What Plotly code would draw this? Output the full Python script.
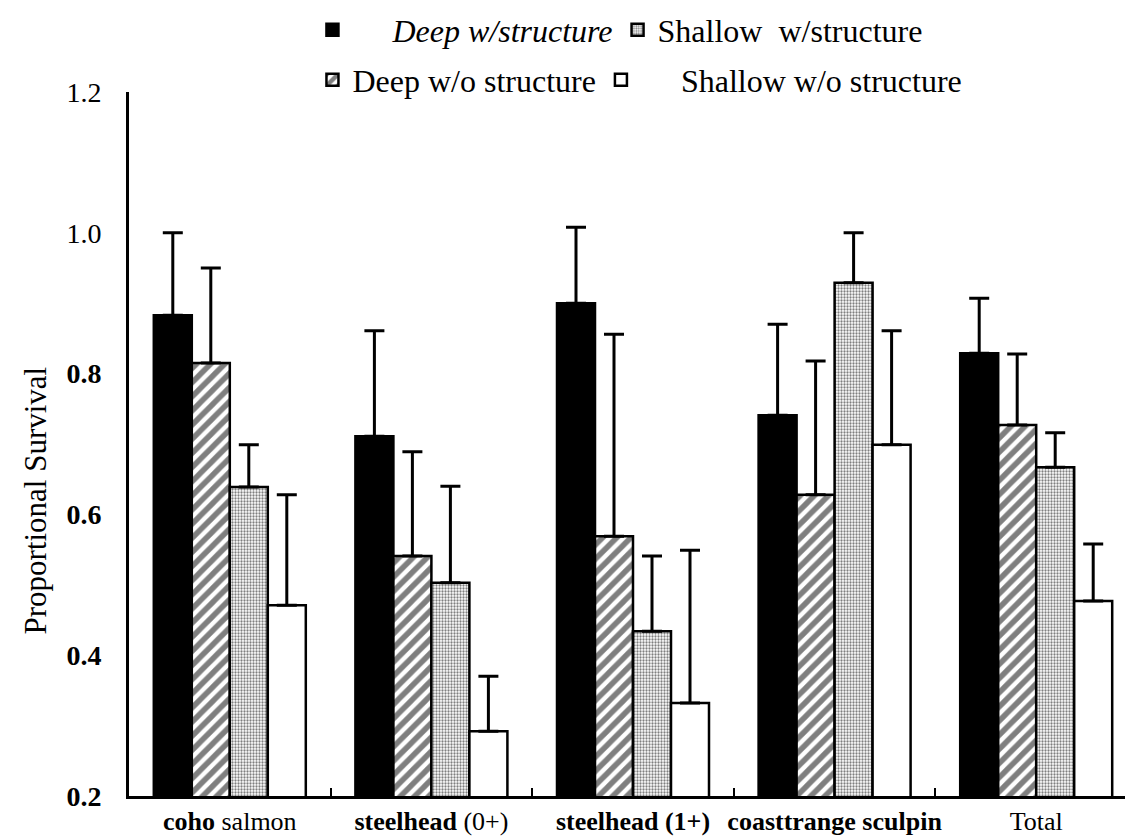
import plotly.graph_objects as go

categories = ["coho salmon", "steelhead (0+)", "steelhead (1+)", "coasttrange sculpin", "Total"]
cat_labels = ["<b>coho</b> salmon", "<b>steelhead</b> (0+)", "<b>steelhead (1+)</b>",
              "<b>coasttrange sculpin</b>", "Total"]

deep_ws = [0.883, 0.711, 0.900, 0.741, 0.829]
deep_ws_err = [0.117, 0.150, 0.108, 0.129, 0.078]
deep_wo = [0.815, 0.541, 0.569, 0.628, 0.727]
deep_wo_err = [0.135, 0.148, 0.287, 0.190, 0.101]
shal_ws = [0.639, 0.503, 0.434, 0.929, 0.667]
shal_ws_err = [0.060, 0.137, 0.107, 0.071, 0.049]
shal_wo = [0.471, 0.292, 0.332, 0.699, 0.477]
shal_wo_err = [0.157, 0.078, 0.217, 0.162, 0.081]

y_ticks = [0.2, 0.4, 0.6, 0.8, 1.0, 1.2]
y_ticktext = ["<b>0.2</b>", "<b>0.4</b>", "<b>0.6</b>", "<b>0.8</b>", "1.0", "1.2"]

FONT = "Liberation Serif"
NB = "\u00a0"

def err(vals):
    return dict(type="data", array=vals, arrayminus=[0] * len(vals), symmetric=False,
                color="black", thickness=3, width=10)

line = dict(color="black", width=2.5)

fig = go.Figure()
fig.add_trace(go.Bar(
    x=categories, y=deep_ws, name=NB * 5 + "<i>Deep w/structure</i>", legend="legend",
    marker=dict(color="black", line=line), error_y=err(deep_ws_err)))
fig.add_trace(go.Bar(
    x=categories, y=deep_wo, name="Deep w/o structure", legend="legend2",
    marker=dict(color="white", line=line,
                pattern=dict(shape="/", fgcolor="black", bgcolor="white", size=10, solidity=0.55)),
    error_y=err(deep_wo_err)))
fig.add_trace(go.Bar(
    x=categories, y=shal_ws, name="Shallow" + NB * 2 + "w/structure", legend="legend",
    marker=dict(color="white", line=line,
                pattern=dict(shape=".", fgcolor="black", bgcolor="white", size=3, solidity=0.45)),
    error_y=err(shal_ws_err)))
fig.add_trace(go.Bar(
    x=categories, y=shal_wo, name=NB * 5 + "Shallow w/o structure", legend="legend2",
    marker=dict(color="white", line=line), error_y=err(shal_wo_err)))

fig.update_layout(
    width=1133, height=836,
    margin=dict(l=121, r=4, t=84, b=48, autoexpand=False),
    paper_bgcolor="white", plot_bgcolor="white",
    barmode="group", bargap=0.246, bargroupgap=0,
    font=dict(family=FONT, size=26, color="black"),
    showlegend=True,
    legend=dict(orientation="h", x=0.182, xanchor="left", y=1.088, yanchor="middle",
                bgcolor="rgba(0,0,0,0)",
                font=dict(family=FONT, size=32, color="black"), itemclick=False),
    legend2=dict(orientation="h", x=0.182, xanchor="left", y=1.017, yanchor="middle",
                 bgcolor="rgba(0,0,0,0)",
                 font=dict(family=FONT, size=32, color="black"), itemclick=False),
    annotations=[dict(text="Proportional Survival", textangle=-90, xref="paper", yref="y",
                      x=-0.093, y=0.62, xanchor="center", yanchor="middle", showarrow=False,
                      font=dict(family=FONT, size=31))],
)
fig.update_xaxes(showline=True, linecolor="black", linewidth=2.5, ticks="inside",
                 tickson="boundaries", ticklen=8, tickwidth=2, tickcolor="black",
                 tickvals=categories, ticktext=cat_labels, showgrid=False, tickangle=0,
                 automargin=False, tickfont=dict(family=FONT, size=26))
fig.update_yaxes(range=[0.2, 1.2], showline=True, linecolor="black", linewidth=3,
                 ticks="", tickvals=y_ticks, ticktext=y_ticktext, showgrid=False,
                 automargin=False, zeroline=False, ticklabelstandoff=19,
                 tickfont=dict(family=FONT, size=28))

fig.write_html("out.html")
